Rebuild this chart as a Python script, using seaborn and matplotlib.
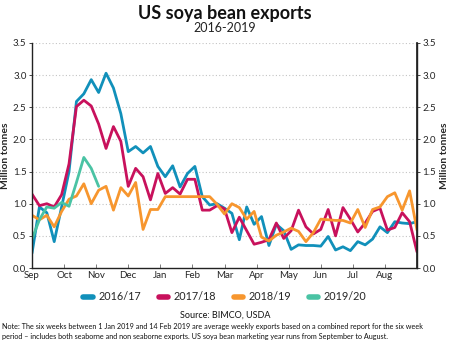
import numpy as np
import pandas as pd
import matplotlib
matplotlib.use("Agg")
import matplotlib.pyplot as plt
import seaborn as sns

months = ["Sep", "Oct", "Nov", "Dec", "Jan", "Feb", "Mar", "Apr", "May", "Jun", "Jul", "Aug"]
seasons = ["2016/17", "2017/18", "2018/19", "2019/20"]

s2016 = [0.23, 0.95, 0.86, 0.41, 0.95, 1.50, 2.59, 2.71, 2.93, 2.73, 3.03, 2.80, 2.40,
         1.81, 1.89, 1.79, 1.89, 1.58, 1.42, 1.59, 1.26, 1.47, 1.58, 1.11, 0.98, 1.00,
         0.93, 0.85, 0.44, 0.95, 0.68, 0.80, 0.35, 0.68, 0.58, 0.29, 0.36, 0.35, 0.35,
         0.34, 0.49, 0.28, 0.33, 0.27, 0.41, 0.36, 0.45, 0.64, 0.55, 0.72, 0.70, 0.69, 0.72]
s2017 = [1.15, 0.97, 1.00, 0.95, 1.14, 1.62, 2.51, 2.61, 2.52, 2.24, 1.86, 2.20, 1.97,
         1.27, 1.55, 1.42, 1.06, 1.47, 1.16, 1.25, 1.15, 1.38, 1.38, 0.90, 0.90, 0.97,
         0.92, 0.55, 0.79, 0.58, 0.37, 0.40, 0.44, 0.70, 0.46, 0.58, 0.90, 0.64, 0.53,
         0.60, 0.91, 0.50, 0.94, 0.76, 0.56, 0.70, 0.88, 0.93, 0.59, 0.63, 0.86, 0.72, 0.25]
s2018 = [0.82, 0.75, 0.82, 0.64, 0.88, 1.07, 1.12, 1.31, 1.00, 1.21, 1.27, 0.90, 1.25,
         1.12, 1.33, 0.60, 0.91, 0.91, 1.11, 1.11, 1.11, 1.11, 1.11, 1.11, 1.11, 0.99,
         0.84, 1.00, 0.94, 0.76, 0.88, 0.48, 0.42, 0.51, 0.56, 0.62, 0.57, 0.41, 0.55,
         0.76, 0.75, 0.74, 0.74, 0.70, 0.91, 0.63, 0.91, 0.95, 1.11, 1.17, 0.90, 1.20, 0.59]
s2019 = [0.45, 0.75, 0.95, 0.93, 1.02, 0.96, 1.33, 1.72, 1.55, 1.27]

colors = ["#1190ba", "#c8115c", "#f7962e", "#4ac3a4"]

frames = []
for name, vals in zip(seasons, [s2016, s2017, s2018, s2019]):
    frames.append(pd.DataFrame({"week": np.arange(len(vals)), "value": vals, "season": name}))
df = pd.concat(frames, ignore_index=True)

sns.set_theme(style="white")
plt.rcParams["font.family"] = ["Lato", "DejaVu Sans"]

fig = plt.figure(figsize=(4.5, 3.41), dpi=100)
ax = fig.add_axes([32/450, 1-268/341, (417-32)/450, (268-43)/341])

sns.lineplot(data=df, x="week", y="value", hue="season", palette=colors,
             hue_order=seasons, linewidth=2.0, ax=ax, legend=False, sort=True)

ax.set_xlim(0, 52)
ax.set_ylim(0, 3.5)
ax.set_xticks([52*m/12 for m in range(12)])
ax.set_xticklabels(months)
yt = np.arange(0, 3.51, 0.5)
ax.set_yticks(yt)
ax.set_yticklabels([f"{v:.1f}" for v in yt])
ax.set_xlabel("")
ax.set_ylabel("Million tonnes", fontsize=7.5, fontweight="bold", labelpad=2)
for v in yt[1:]:
    ax.axhline(v, color="#c4c4c4", lw=0.8, ls=(0, (1, 2)), zorder=0)
ax.grid(False)

ax.spines["top"].set_visible(False)
for s in ["left", "right", "bottom"]:
    ax.spines[s].set_visible(True)
    ax.spines[s].set_color("#222222")
    ax.spines[s].set_linewidth(1.0)
ax.tick_params(axis="x", direction="in", length=3, width=0.6, color="#666666",
               labelsize=7, pad=2, bottom=True)
ax.tick_params(axis="y", direction="out", length=2, width=0.6, labelsize=7, pad=2, left=True)

ax2 = ax.twinx()
ax2.set_ylim(0, 3.5)
ax2.set_yticks(yt)
ax2.set_yticklabels([f"{v:.1f}" for v in yt])
ax2.tick_params(axis="y", direction="out", length=2, width=0.6, labelsize=7, pad=2, right=True)
ax2.set_ylabel("Million tonnes", fontsize=7.5, fontweight="bold", labelpad=3)
for s in ["top", "left", "bottom"]:
    ax2.spines[s].set_visible(False)
ax2.spines["right"].set_color("#222222")
ax2.grid(False)

fig.text(0.5, 1-14/341, "US soya bean exports", ha="center", va="center",
         fontsize=13, fontweight="bold", color="#111111")
fig.text(0.5, 1-28/341, "2016-2019", ha="center", va="center", fontsize=9, color="#222222")

handles = [plt.Line2D([0], [0], color=c, lw=4, solid_capstyle="round") for c in colors]
fig.legend(handles, seasons, loc="center", bbox_to_anchor=(0.5, 1-297/341), ncol=4,
           frameon=False, fontsize=7.8, handlelength=0.9, handletextpad=0.5, columnspacing=1.6)

fig.text(0.5, 1-315/341, "Source: BIMCO, USDA", ha="center", va="center", fontsize=6.5, color="#111111")
fig.text(0.005, 1-327/341,
         "Note: The six weeks between 1 Jan 2019 and 14 Feb 2019 are average weekly exports based on a combined report for the six week",
         ha="left", va="center", fontsize=5.2, color="#111111")
fig.text(0.005, 1-336/341,
         "period \u2013 includes both seaborne and non seaborne exports. US soya bean marketing year runs from September to August.",
         ha="left", va="center", fontsize=5.2, color="#111111")

fig.savefig("out.png", dpi=100)
